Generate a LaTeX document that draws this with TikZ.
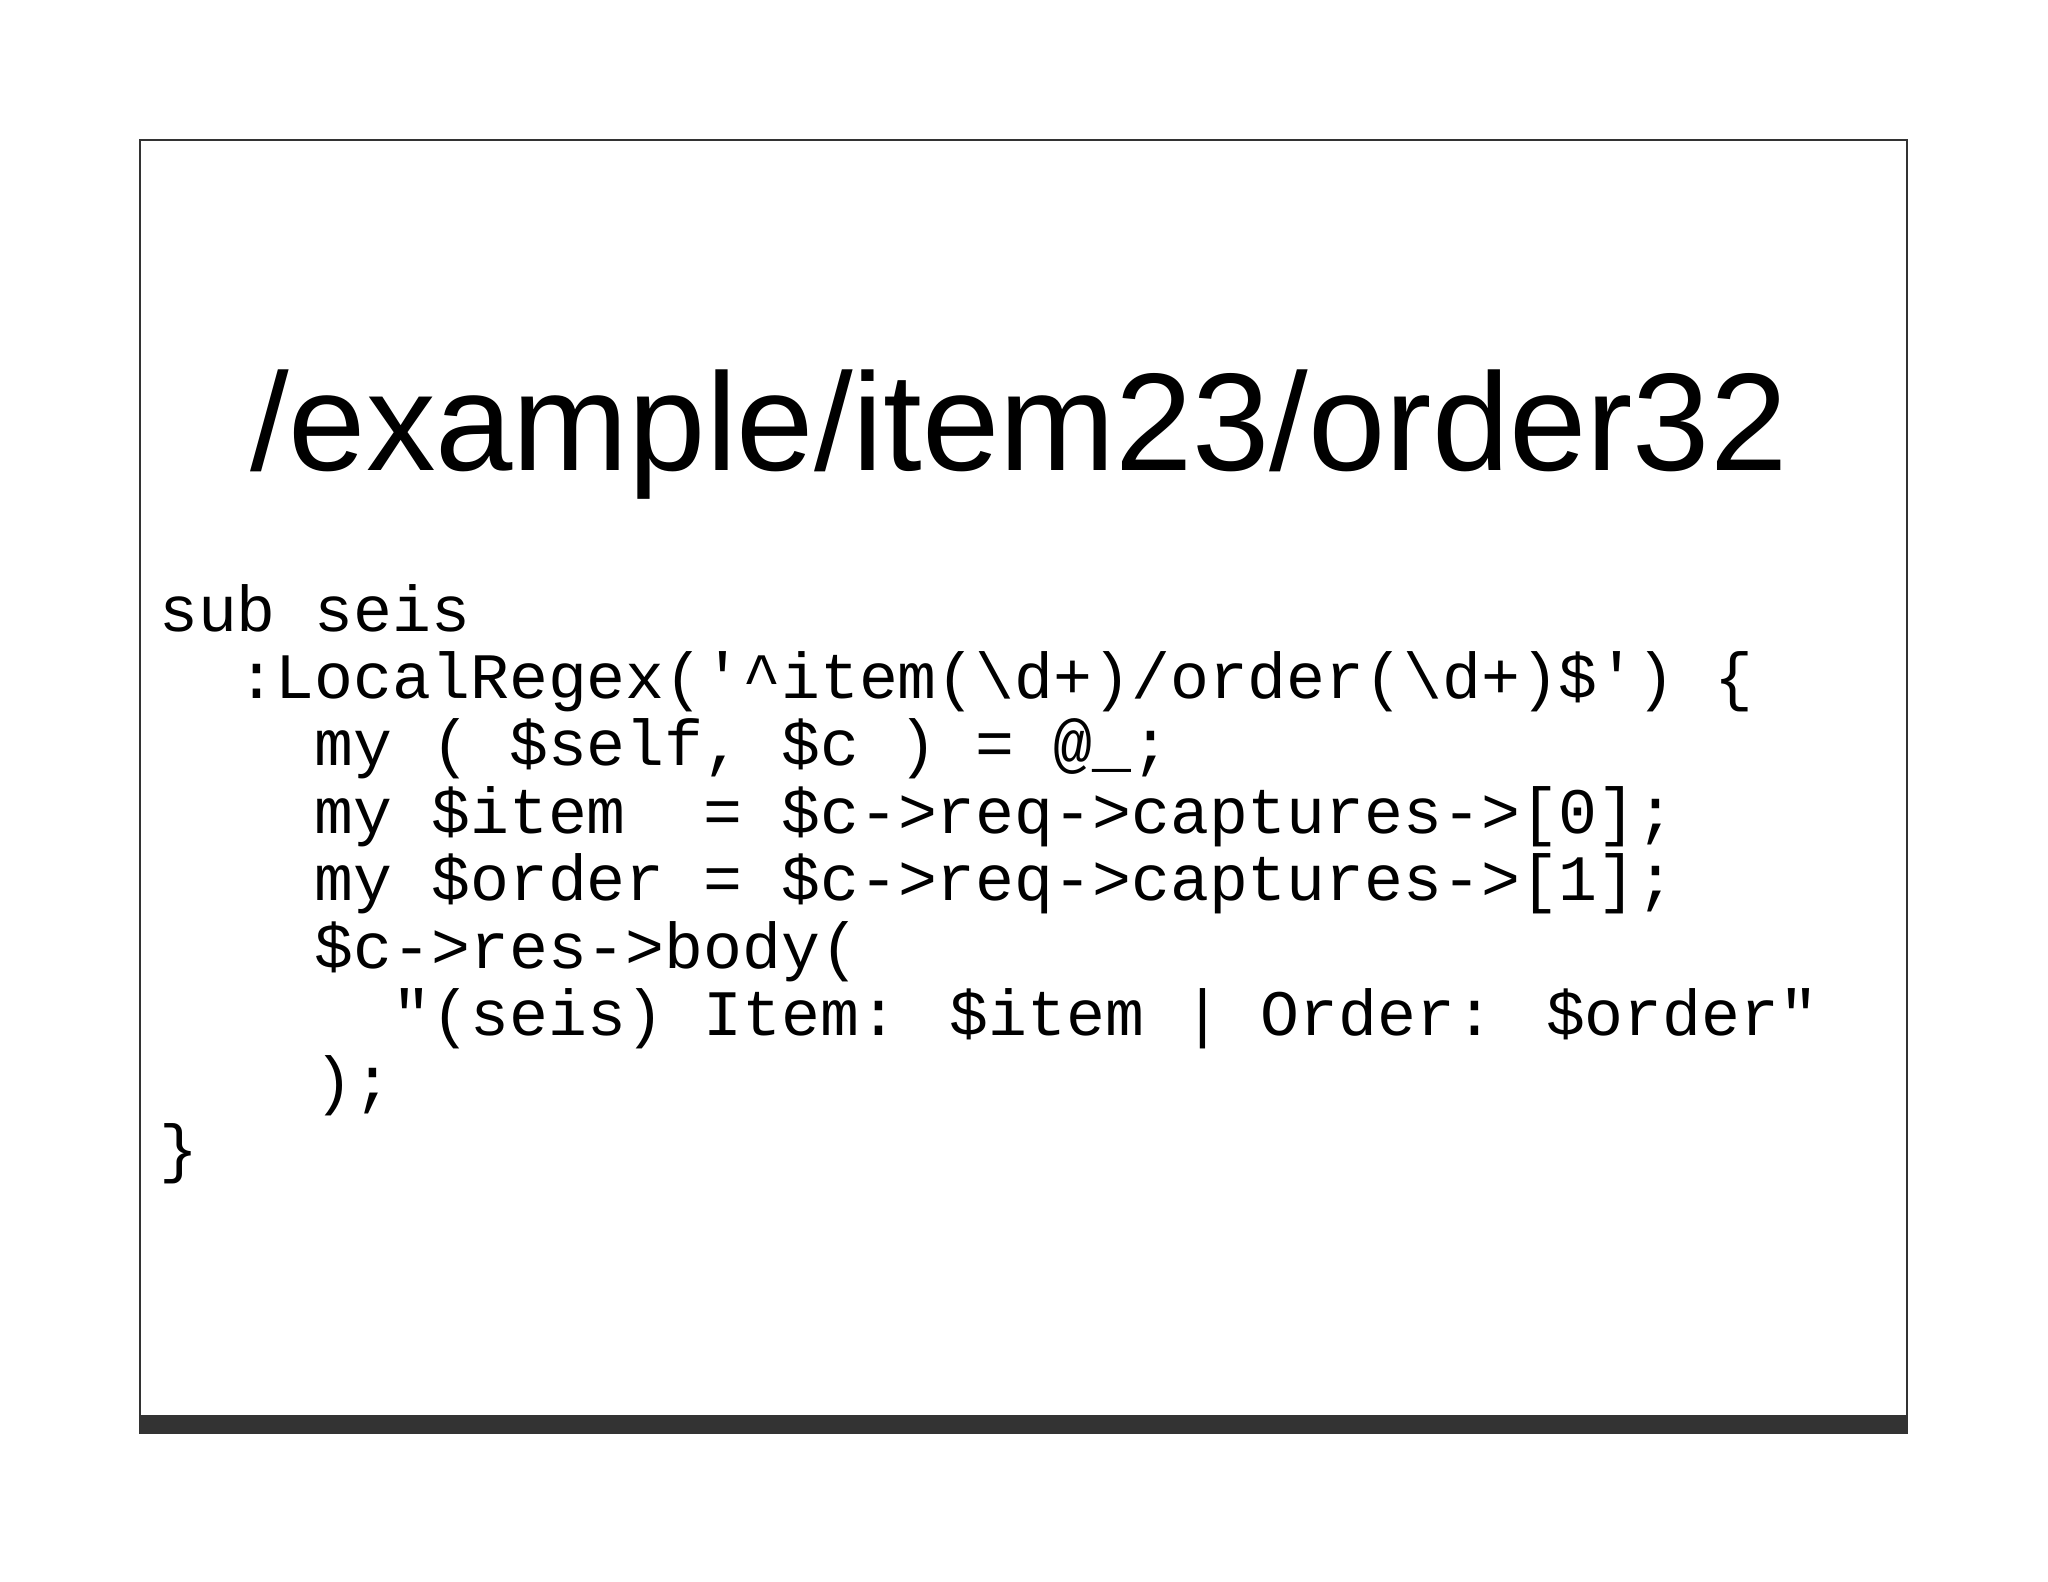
\documentclass[tikz,border=0pt]{standalone}
\usepackage{fontspec}
\newfontfamily\titlefont{Liberation Sans}
\newfontfamily\codefont{Liberation Mono}
\begin{document}
\begin{tikzpicture}[x=1pt,y=-1pt,
  code/.style={anchor=base west,inner sep=0pt,font=\codefont\fontsize{64.8}{67}\selectfont}]
\useasboundingbox (0,0) rectangle (2048,1582);
\fill[white] (0,0) rectangle (2048,1582);
\draw[line width=1.3pt,draw=black!80] (140,140) rectangle (1907,1433);
\fill[black!80] (140,1415) rectangle (1907,1433);
\node[anchor=base,inner sep=0pt,font=\titlefont\fontsize{139}{150}\selectfont] (title) at (1019,470) {/example/item23/order32};
\def\cw{38.9}
\def\lh{67.4}
\node[code] (l1) at (159,631) {sub seis};
\node[code] (l2) at (159+2*\cw,631+\lh) {:LocalRegex(\symbol{39}\textasciicircum item(\textbackslash d+)/order(\textbackslash d+)\$\symbol{39}) \{};
\node[code] (l3) at (159+4*\cw,631+2*\lh) {my ( \$self, \$c ) = @\_;};
\node[code] (l4) at (159+4*\cw,631+3*\lh) {my \$item\ \ = \$c->req->captures->[0];};
\node[code] (l5) at (159+4*\cw,631+4*\lh) {my \$order = \$c->req->captures->[1];};
\node[code] (l6) at (159+4*\cw,631+5*\lh) {\$c->res->body(};
\node[code] (l7) at (159+6*\cw,631+6*\lh) {\symbol{34}(seis) Item: \$item | Order: \$order\symbol{34}};
\node[code] (l8) at (159+4*\cw,631+7*\lh) {);};
\node[code] (l9) at (159,631+8*\lh) {\}};
\end{tikzpicture}
\end{document}
